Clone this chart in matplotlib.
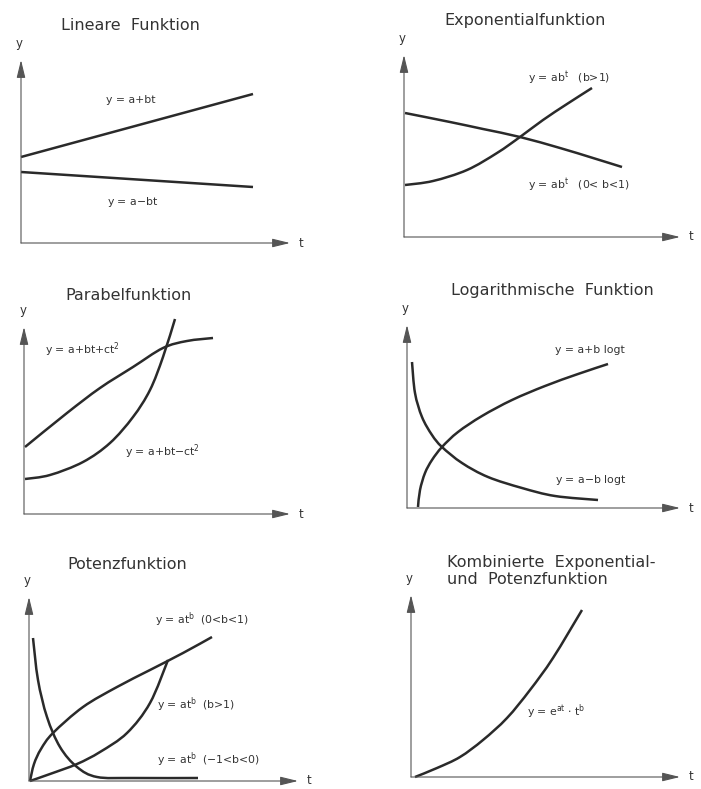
import matplotlib.pyplot as plt
from matplotlib.path import Path
from matplotlib.patches import PathPatch

plt.rcParams['font.family'] = 'DejaVu Sans'
plt.rcParams['mathtext.fontset'] = 'dejavusans'

# values (arbitrary units, origin at the axis corner)
lin_t = [0, 232]
lin_up = [86, 149]
lin_down = [71, 56]

exp_dec_t = [1, 46, 79, 116, 156, 189, 218]
exp_dec_y = [124, 115, 108, 100, 89, 79, 70]
exp_inc_t = [1, 29, 63, 93, 116, 139, 163, 188]
exp_inc_y = [52, 56, 67, 84, 100, 117, 133, 149]

par1_t = [1, 43, 76, 109, 139, 163, 189]
par1_y = [67, 101, 126, 147, 166, 173, 176]
par2_t = [1, 26, 59, 86, 109, 126, 139, 151]
par2_y = [35, 39, 52, 71, 97, 124, 157, 195]

log_up_t = [11, 13, 18, 25, 35, 51, 75, 105, 138, 171, 201]
log_up_y = [1, 18, 35, 48, 61, 76, 92, 108, 122, 134, 144]
log_dn_t = [5, 8, 15, 25, 35, 55, 81, 115, 148, 191]
log_dn_y = [146, 115, 91, 73, 61, 45, 31, 20, 12, 8]

pot1_t = [1, 5, 12, 24, 54, 88, 121, 154, 183]
pot1_y = [0, 17, 32, 48, 74, 94, 111, 128, 144]
pot2_t = [1, 21, 48, 71, 98, 121, 139]
pot2_y = [0, 7, 17, 29, 48, 78, 121]
pot3_t = [4, 9, 18, 31, 48, 68, 104, 169]
pot3_y = [143, 101, 64, 34, 14, 4, 3, 3]

komb_t = [4, 26, 49, 72, 96, 119, 142, 171]
komb_y = [0, 9, 20, 37, 59, 87, 119, 167]

LINE = '#2a2a2a'
AXC = '#555555'
TXT = '#333333'

fig = plt.figure(figsize=(7.01, 7.89), dpi=100)
W, H = 701.0, 789.0


def panel(x0, y0, xtip, ytip):
    # axes placed by pixel corners of the sketch
    ax = fig.add_axes([x0 / W, 1 - y0 / H, (xtip - x0) / W, (y0 - ytip) / H])
    ax.set_xlim(0, xtip - x0)
    ax.set_ylim(0, y0 - ytip)
    ax.axis('off')
    arr = dict(arrowstyle='-|>,head_length=0.9,head_width=0.22', lw=0.8,
               color=AXC, shrinkA=0, shrinkB=0, mutation_scale=12)
    ax.annotate('', xy=(1, 0), xytext=(0, 0), xycoords='axes fraction', arrowprops=arr)
    ax.annotate('', xy=(0, 1), xytext=(0, 0), xycoords='axes fraction', arrowprops=arr)
    ax.text(-0.005, 1.09, 'y', transform=ax.transAxes, ha='center', va='center',
            fontsize=8.5, color=TXT)
    ax.text(1.04, 0.0, 't', transform=ax.transAxes, ha='center', va='center',
            fontsize=8.5, color=TXT)
    return ax


def curve(ax, t, y):
    # smooth hand-drawn look: bezier path through the read points
    pts = list(zip(t, y))
    if len(pts) < 3:
        ax.plot(t, y, color=LINE, lw=1.8, solid_capstyle='butt', clip_on=False)
        return
    verts = [pts[0]]
    codes = [Path.MOVETO]
    for i in range(len(pts) - 1):
        p0 = pts[i - 1] if i > 0 else pts[i]
        p1 = pts[i]
        p2 = pts[i + 1]
        p3 = pts[i + 2] if i + 2 < len(pts) else pts[i + 1]
        c1 = (p1[0] + (p2[0] - p0[0]) / 6, p1[1] + (p2[1] - p0[1]) / 6)
        c2 = (p2[0] - (p3[0] - p1[0]) / 6, p2[1] - (p3[1] - p1[1]) / 6)
        verts += [c1, c2, p2]
        codes += [Path.CURVE4] * 3
    ax.add_patch(PathPatch(Path(verts, codes), fill=False, edgecolor=LINE, lw=1.8,
                           capstyle='butt', clip_on=False))


def label(ax, x, y, s, ha='left'):
    ax.text(x, y, s, fontsize=7.8, color=TXT, ha=ha, va='center')


def title(ax, x, y, s, ha='center'):
    ax.text(x, y, s, fontsize=11.5, color=TXT, ha=ha, va='center')


# Lineare Funktion
ax = panel(21, 243, 290, 60)
curve(ax, lin_t, lin_up)
curve(ax, lin_t, lin_down)
label(ax, 110, 143, 'y = a+bt', ha='center')
label(ax, 112, 41, 'y = a$-$bt', ha='center')
title(ax, 109, 218, 'Lineare  Funktion')

# Exponentialfunktion
ax = panel(404, 237, 680, 55)
curve(ax, exp_dec_t, exp_dec_y)
curve(ax, exp_inc_t, exp_inc_y)
label(ax, 124, 159, r'y = ab$^\mathregular{t}$   (b>1)')
label(ax, 124, 52, r'y = ab$^\mathregular{t}$   (0< b<1)')
title(ax, 121, 217, 'Exponentialfunktion')

# Parabelfunktion
ax = panel(24, 514, 290, 327)
curve(ax, par1_t, par1_y)
curve(ax, par2_t, par2_y)
label(ax, 21, 164, r'y = a+bt+ct$^\mathregular{2}$')
label(ax, 101, 62, r'y = a+bt$-$ct$^\mathregular{2}$')
title(ax, 104, 219, 'Parabelfunktion')

# Logarithmische Funktion
ax = panel(407, 508, 680, 325)
curve(ax, log_up_t, log_up_y)
curve(ax, log_dn_t, log_dn_y)
label(ax, 148, 158, 'y = a+b logt')
label(ax, 148, 28, 'y = a$-$b logt')
title(ax, 145, 218, 'Logarithmische  Funktion')

# Potenzfunktion
ax = panel(29, 781, 298, 597)
curve(ax, pot1_t, pot1_y)
curve(ax, pot2_t, pot2_y)
curve(ax, pot3_t, pot3_y)
label(ax, 126, 161, r'y = at$^\mathregular{b}$  (0<b<1)')
label(ax, 128, 76, r'y = at$^\mathregular{b}$  (b>1)')
label(ax, 128, 21, r'y = at$^\mathregular{b}$  ($-$1<b<0)')
title(ax, 98, 216, 'Potenzfunktion')

# Kombinierte Exponential- und Potenzfunktion
ax = panel(411, 777, 680, 595)
curve(ax, komb_t, komb_y)
label(ax, 116, 65, r'y = e$^\mathregular{at}$ $\cdot$ t$^\mathregular{b}$')
title(ax, 36, 215, 'Kombinierte  Exponential-', ha='left')
title(ax, 36, 197, 'und  Potenzfunktion', ha='left')

fig.savefig('out.png', dpi=100, facecolor='white')
